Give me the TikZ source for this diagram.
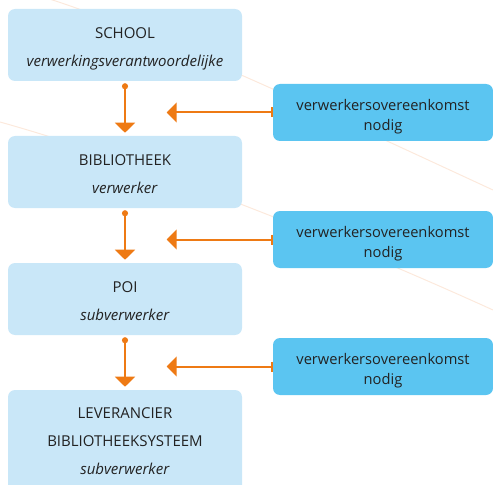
\documentclass[tikz,border=0pt]{standalone}
\usepackage{fontspec}
\setmainfont{Open Sans}
\usetikzlibrary{arrows.meta}
\definecolor{rolblauw}{HTML}{C9E7F8}
\definecolor{ovkblauw}{HTML}{5BC5F1}
\definecolor{oranje}{HTML}{EE7A14}
\definecolor{lijnoranje}{HTML}{FCE9DC}
\definecolor{tekst}{HTML}{222222}
\newcommand{\rolboven}{\rule{0pt}{14.25pt}}
\newcommand{\rolonder}[1][3pt]{\rule[-#1]{0pt}{#1}}
\newcommand{\ovkboven}{\rule{0pt}{15.3pt}}
\newcommand{\ovkonder}{\rule[-3pt]{0pt}{3pt}}
\tikzset{
	rol/.style={fill=rolblauw, rounded corners=5.25pt, minimum width=175.5pt, minimum height=54pt,
		inner sep=0pt, align=center, text=tekst, font={\fontsize{11.25}{21}\selectfont}},
	ovk/.style={fill=ovkblauw, rounded corners=5.25pt, minimum width=165pt, minimum height=42.75pt,
		inner sep=0pt, align=center, text=tekst, font={\fontsize{11}{15}\selectfont}},
	pijl/.style={draw=oranje, line width=1.5pt},
}
\begin{document}
\begin{tikzpicture}[x=0.75pt,y=-0.75pt]
	\path[use as bounding box, clip] (0,0) rectangle (493,485);
	%--faint lines in the background
	\draw[lijnoranje, line width=0.75pt] (40,-4) .. controls (150,30) and (320,110) .. (493,190);
	\draw[lijnoranje, line width=0.75pt] (0,122) .. controls (150,164) and (350,245) .. (493,310);
	
	%--roles
	\node[rol] (school) at (125,45) {\rolboven SCHOOL\\\textit{verwerkingsverantwoordelijke}\rolonder};
	\node[rol] (bieb) at (125,172) {\rolboven BIBLIOTHEEK\\\textit{verwerker}\rolonder};
	\node[rol] (poi) at (125,299) {\rolboven POI\\\textit{subverwerker}\rolonder};
	\node[rol, minimum height=78pt] (leverancier) at (125,442) {\rolboven LEVERANCIER\\BIBLIOTHEEKSYSTEEM\\\textit{subverwerker}\rolonder[7.5pt]};
	
	%--agreements
	\foreach \n/\y in {1/112.5, 2/239.5, 3/366.5}
		\node[ovk] (ovk\n) at (383,\y) {\ovkboven verwerkersovereenkomst\\nodig\ovkonder};
	
	%--arrows down the chain
	\foreach \a/\b in {school/bieb, bieb/poi, poi/leverancier}
		\draw[pijl, {Circle[length=4.5pt]}-{Triangle[width=15pt,length=7.5pt]}, shorten <=1.5pt, shorten >=2.25pt] (\a.south) -- (\b.north);
	%--arrows from the agreements
	\foreach \n in {1,2,3}{
		\coordinate (tip\n) at ([xshift=-79.5pt]ovk\n.west);
		\draw[pijl, {Bar[width=7.5pt]}-{Triangle[width=15pt,length=7.5pt]}] (ovk\n.west) -- (tip\n);
	}
\end{tikzpicture}
\end{document}
